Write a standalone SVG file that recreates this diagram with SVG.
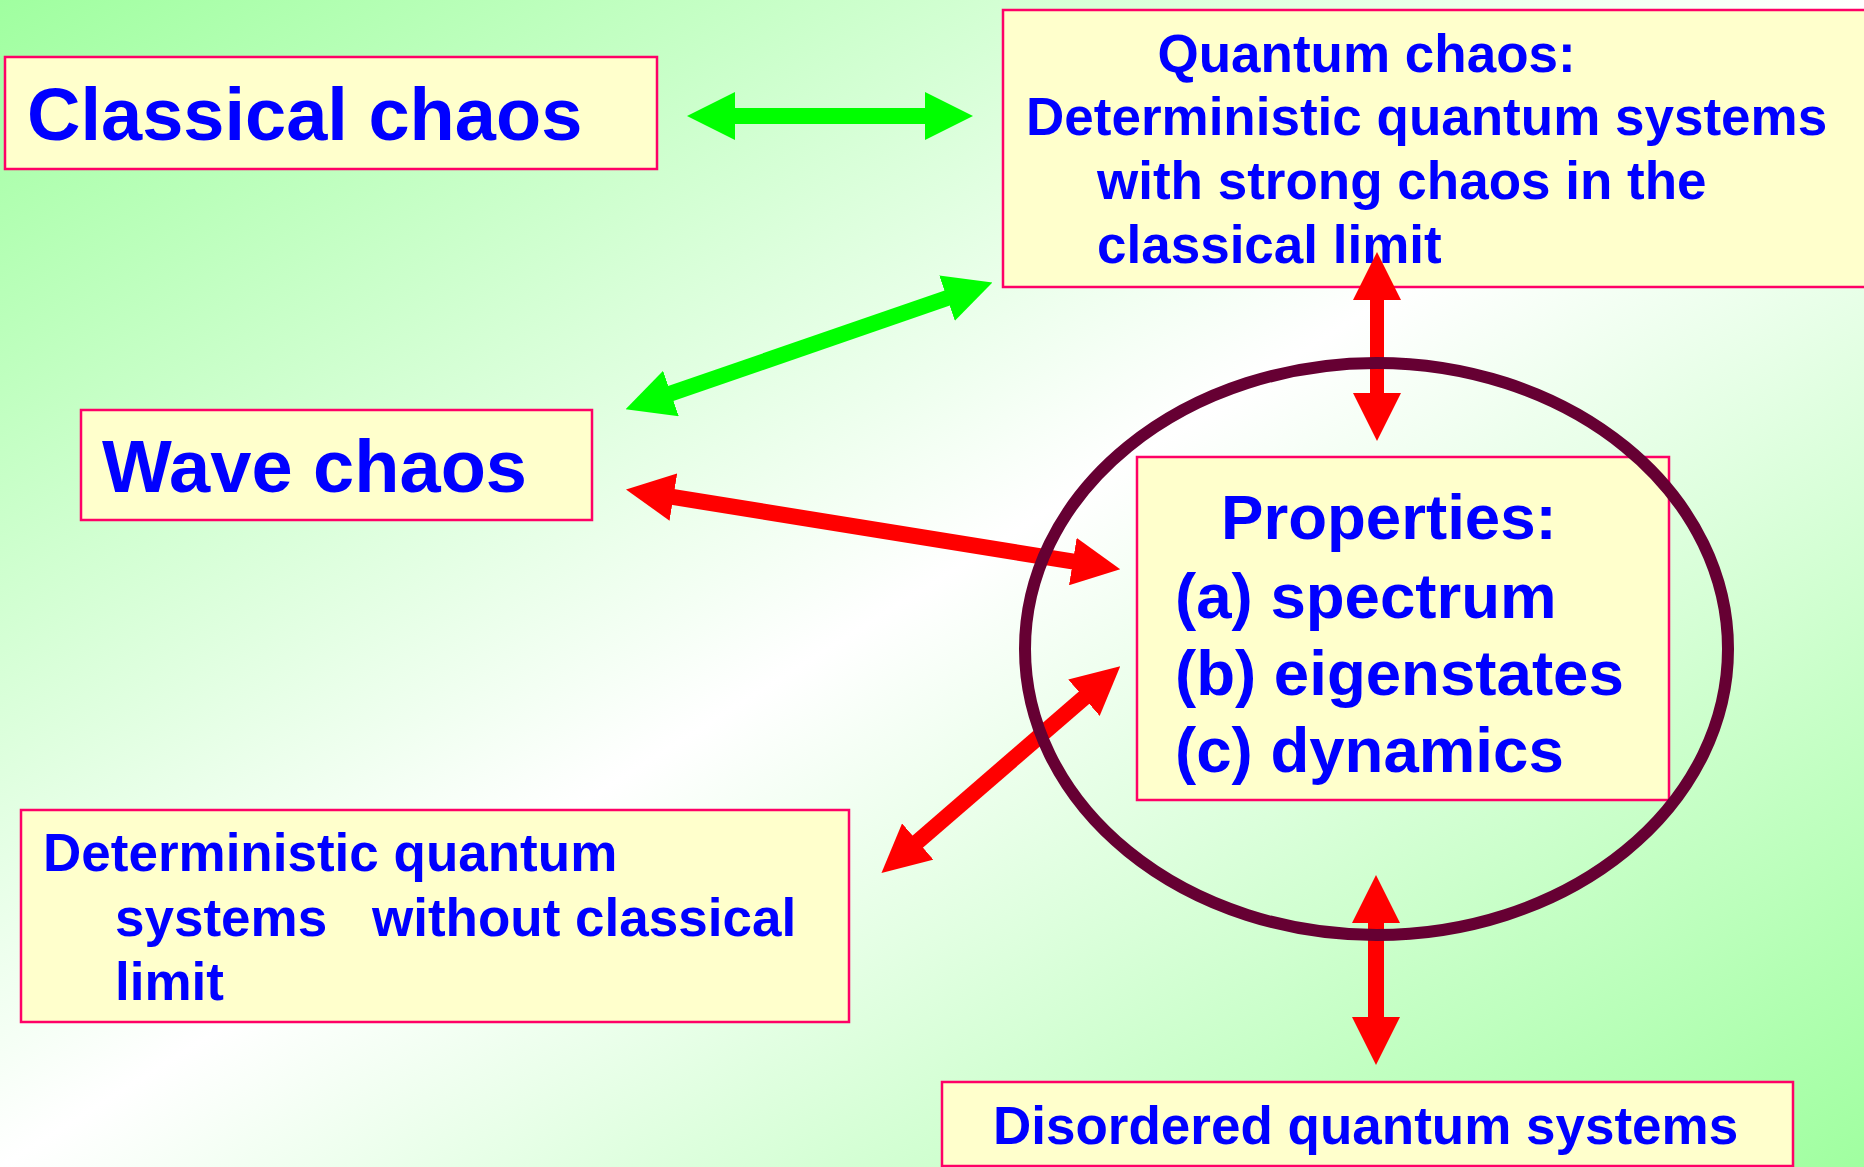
<svg xmlns="http://www.w3.org/2000/svg" width="1864" height="1167" viewBox="0 0 1864 1167">
  <defs>
    <linearGradient id="bg" x1="0" y1="0" x2="1" y2="1">
      <stop offset="0" stop-color="#a0ffa0"/>
      <stop offset="0.5" stop-color="#ffffff"/>
      <stop offset="1" stop-color="#a0ffa0"/>
    </linearGradient>
    <marker id="hg" viewBox="0 0 48 48" markerUnits="userSpaceOnUse" markerWidth="48" markerHeight="48" refX="1" refY="24" orient="auto-start-reverse">
      <path d="M0,0 L48,24 L0,48 Z" fill="#00ff00"/>
    </marker>
    <marker id="hr" viewBox="0 0 48 48" markerUnits="userSpaceOnUse" markerWidth="48" markerHeight="48" refX="1" refY="24" orient="auto-start-reverse">
      <path d="M0,0 L48,24 L0,48 Z" fill="#ff0000"/>
    </marker>
    <style>
      .box { fill: #ffffcc; stroke: #ff0066; stroke-width: 2.5; }
      .t { font-family: "Liberation Sans", Arial, sans-serif; font-weight: bold; fill: #0000ff; }
      .big { font-size: 74px; }
      .mid { font-size: 53px; }
      .prop { font-size: 63.6px; }
      .ga { stroke: #00ff00; stroke-width: 16; fill: none; marker-start: url(#hg); marker-end: url(#hg); }
      .ra { stroke: #ff0000; stroke-width: 16; fill: none; marker-start: url(#hr); marker-end: url(#hr); }
    </style>
  </defs>

  <rect x="0" y="0" width="1864" height="1167" fill="url(#bg)"/>

  <g id="classical-chaos">
    <rect class="box" x="5" y="57" width="652" height="112"/>
    <text class="t big" x="27" y="140">Classical chaos</text>
  </g>

  <g id="quantum-chaos">
    <rect class="box" x="1003" y="10" width="900" height="277"/>
    <text class="t mid" x="1157.5" y="72">Quantum chaos:</text>
    <text class="t mid" x="1026" y="135">Deterministic quantum systems</text>
    <text class="t mid" x="1097" y="199">with strong chaos in the</text>
    <text class="t mid" x="1097" y="263">classical limit</text>
  </g>

  <g id="wave-chaos">
    <rect class="box" x="81" y="410" width="511" height="110"/>
    <text class="t big" x="102" y="492">Wave chaos</text>
  </g>

  <g id="properties">
    <rect class="box" x="1137" y="457" width="532" height="343"/>
    <text class="t prop" x="1221" y="539">Properties:</text>
    <text class="t prop" x="1175" y="618">(a) spectrum</text>
    <text class="t prop" x="1175" y="695">(b) eigenstates</text>
    <text class="t prop" x="1175" y="772">(c) dynamics</text>
  </g>

  <g id="deterministic-without-limit">
    <rect class="box" x="21" y="810" width="828" height="212"/>
    <text class="t mid" x="43" y="871">Deterministic quantum</text>
    <text class="t mid" y="936"><tspan x="115">systems</tspan><tspan x="372">without classical</tspan></text>
    <text class="t mid" x="115" y="1000">limit</text>
  </g>

  <g id="disordered">
    <rect class="box" x="942" y="1082" width="851" height="84"/>
    <text class="t mid" x="993" y="1144">Disordered quantum systems</text>
  </g>

  <g id="connectors">
    <line class="ga" x1="734" y1="116" x2="926" y2="116"/>
    <line class="ga" x1="670" y1="393.8" x2="948" y2="297.8"/>
    <line class="ra" x1="672.4" y1="496.9" x2="1073.8" y2="561.7"/>
    <line class="ra" x1="917" y1="842.2" x2="1084.7" y2="697.1"/>
    <line class="ra" x1="1377" y1="299" x2="1377" y2="394" style="stroke-width:14"/>
    <line class="ra" x1="1376" y1="922" x2="1376" y2="1018"/>
  </g>

  <g id="ellipse">
    <ellipse cx="1376.5" cy="649" rx="351.5" ry="286" fill="none" stroke="#660033" stroke-width="12"/>
  </g>
</svg>
